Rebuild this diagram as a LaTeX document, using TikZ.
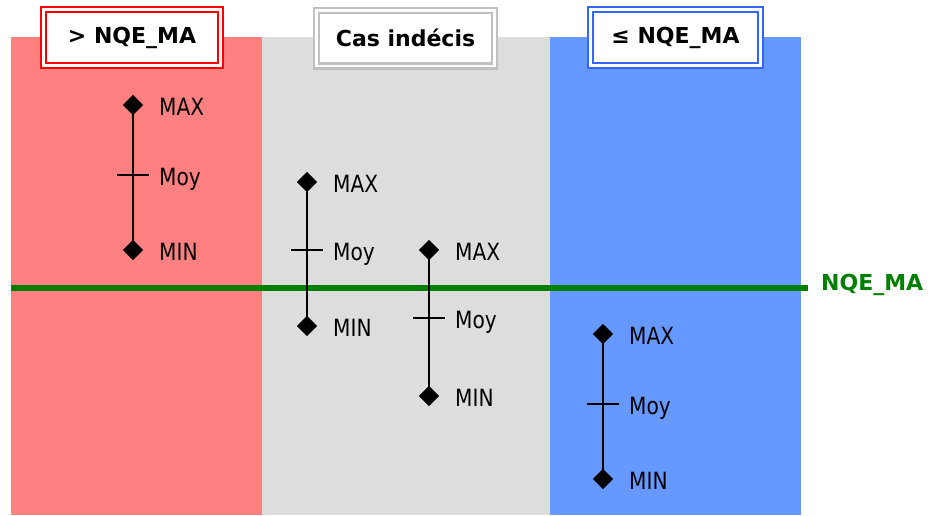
\documentclass[tikz,border=0pt]{standalone}
\usepackage{fontspec}
\setmainfont{DejaVu Sans}
\newfontfamily\lblfont{DejaVu Sans}[FakeStretch=0.85]
\usetikzlibrary{calc}
\definecolor{redpanel}{RGB}{255,128,128}
\definecolor{graypanel}{RGB}{221,221,221}
\definecolor{bluepanel}{RGB}{102,153,255}
\definecolor{redborder}{RGB}{255,0,0}
\definecolor{grayborder}{RGB}{192,192,192}
\definecolor{blueborder}{RGB}{51,102,255}
\definecolor{nqegreen}{RGB}{0,128,0}
\tikzset{
  titlebox/.style={fill=white, line width=2.4pt, double=white, double distance=2.6pt,
    minimum height=55.6pt, inner sep=0pt,
    font=\bfseries\fontsize{22}{26}\selectfont},
  dia/.style={rectangle, rotate=45, fill=black, draw=none, minimum size=14.4pt, inner sep=0pt},
  stem/.style={line width=1.6pt, black},
  lbl/.style={anchor=base west, inner sep=0pt, font=\lblfont\fontsize{23.7}{28}\selectfont},
  greenline/.style={line width=6pt, nqegreen}
}
\newcommand\mymarker[5]{%
  \node[dia] (#1max) at (#2,#3) {};
  \coordinate (#1moy) at (#2,#4);
  \node[dia] (#1min) at (#2,#5) {};
  \draw[stem] (#1max.center) -- (#1min.center);
  \draw[stem] ($(#1moy)+(-16,0)$) -- ($(#1moy)+(16,0)$);
  \node[lbl] (#1maxl) at ($(#1max)+(26,10.6)$) {MAX};
  \node[lbl] (#1moyl) at ($(#1moy)+(26,10.6)$) {Moy};
  \node[lbl] (#1minl) at ($(#1min)+(26,10.6)$) {MIN};
}
\begin{document}
\begin{tikzpicture}[x=1pt,y=-1pt]
\useasboundingbox (0,0) rectangle (928,515);
% panels
\fill[redpanel] (11,37) rectangle (262,515);
\fill[graypanel] (262,37) rectangle (550,515);
\fill[bluepanel] (550,37) rectangle (801,515);
% threshold line
\coordinate (gl) at (11,288);
\coordinate (gr) at (808,288);
\draw[greenline] (gl) -- (gr);
\node[anchor=base west, inner sep=0pt, text=nqegreen, font=\bfseries\fontsize{22}{26}\selectfont] (nqe) at (821,290) {NQE\_MA};
% titles
\node[titlebox, draw=redborder, minimum width=176.6pt] (tred) at (132,37.5) {> NQE\_MA};
\node[titlebox, draw=grayborder, minimum width=177.6pt] (tgray) at (405.5,38) {Cas indécis};
\node[titlebox, draw=blueborder, minimum width=169.6pt] (tblue) at (675.5,37.5) {≤ NQE\_MA};
% markers
\mymarker{a}{133}{105}{175}{250}
\mymarker{b}{307}{182}{250}{326}
\mymarker{c}{429}{250}{318}{396}
\mymarker{d}{603}{334}{404}{479}
\end{tikzpicture}
\end{document}
